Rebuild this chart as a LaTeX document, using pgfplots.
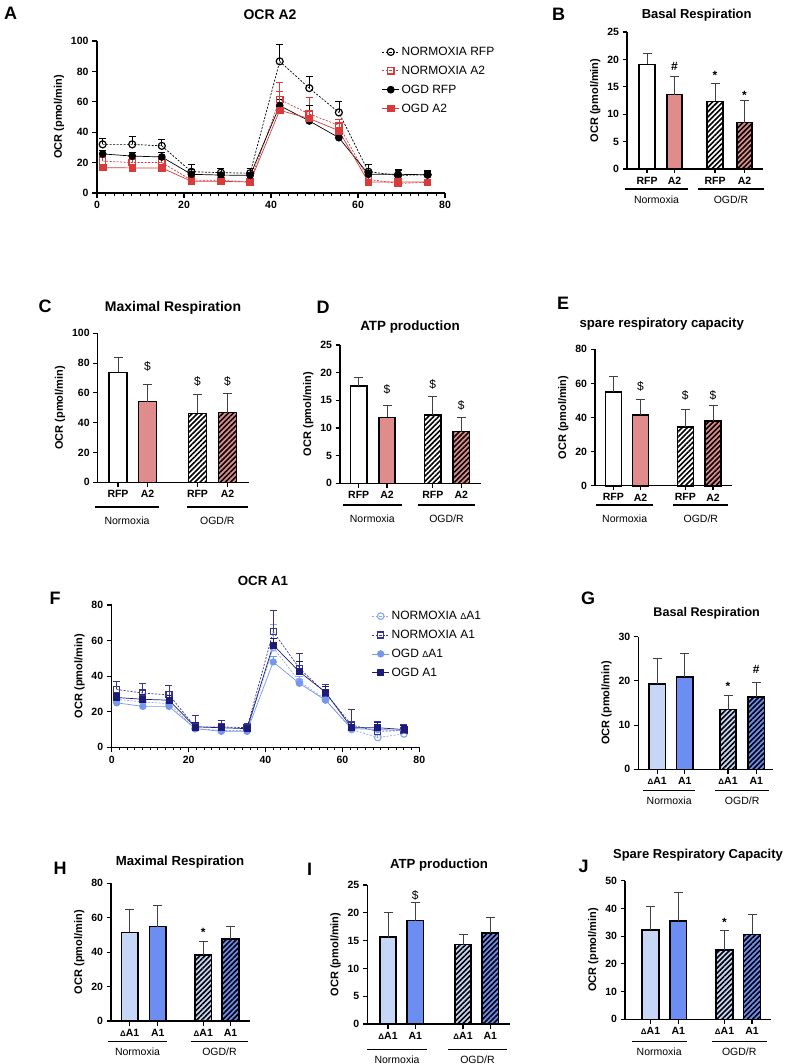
\documentclass[border=0pt]{standalone}
\usepackage{pgfplots}
\pgfplotsset{compat=1.18}
\usepackage{pgfplotstable}
\usepackage{fontspec}
\setmainfont{Liberation Sans}
\usetikzlibrary{patterns.meta}

\definecolor{pinkbar}{HTML}{E08C8C}
\definecolor{redA}{HTML}{D93A3A}
\definecolor{lbar}{HTML}{C6D6F6}
\definecolor{bbar}{HTML}{6C8EF2}
\definecolor{lblue}{HTML}{8CAAF2}
\definecolor{mblue}{HTML}{7597EE}
\definecolor{dblue}{HTML}{35358F}
\definecolor{navy}{HTML}{1C1C78}

\newcommand{\fs}[1]{\fontsize{#1}{#1}\selectfont}
\newcommand{\dl}{{\fs{8}Δ}}

\tikzset{ann/.style={font=\fs{12}}, annb/.style={font=\bfseries\fs{12}}}

\pgfplotsset{
  base/.style={scale only axis, axis lines=left, axis line style={-,line width=1.2pt},
    tick align=outside, major tick length=4.5pt, minor tick length=3pt,
    tick style={line width=1.1pt,black}, minor tick style={line width=0.9pt,black},
    ticklabel style={font=\bfseries\fs{10.5}},
    ylabel={OCR (pmol/min)}, ylabel style={font=\bfseries\fs{11}},
    /pgf/number format/assume math mode=true,
    xmin=0, ymin=0, clip=false, anchor=south west},
  barax/.style={base, bar shift=0pt},
  eb/.style={error bars/y dir=plus, error bars/y explicit,
    error bars/error bar style={line width=0.8pt, black!75, solid},
    error bars/error mark options={rotate=90, mark size=4.5pt, line width=0.8pt, black!75, solid}},
  wb/.style={ybar, bar shift=0pt, draw=black, line width=1.6pt, fill=white, eb},
  hatch/.style={postaction={pattern={Lines[angle=45,distance=3.6pt,line width=1.6pt]}, pattern color=black}},
  leb/.style={error bars/y dir=plus, error bars/y explicit,
    error bars/error bar style={line width=0.7pt, solid},
    error bars/error mark options={rotate=90, mark size=3.5pt, line width=0.7pt, solid}},
}

\pgfplotstableread{
t    a   ea   b   eb   c    ec   d    ed
1.3  32  4    21  3    25.7 2.5  16.7 2
8.1  32  5    20  3    24.3 2.5  16.5 2
14.9 31  4.5  20  3    23.7 3    16.5 2
21.7 14  5    8.5 2    12.3 3    7.7  1.5
28.5 13.4 2.6 8.3 2    11.8 2    7.7  1.5
35.2 13  3.5  7.4 2    11.6 2    7.2  1.5
42.0 86.6 11.4 61.5 11.5 57.5 4  54.4 12.6
48.8 69  8    52  11   47.4 10   49   5
55.6 53  7.5  44.5 4   36.4 3    41   5
62.4 14  4.6  9   2.5  12.3 2.5  7.2  1.5
69.2 11.6 3.4 6.3 2.5  12.3 3.5  7.3  1.5
76.0 12  3    7   2    12   2    7.2  1.5
}\dataA

\pgfplotstableread{
t    a    ea   b    eb   c    ec   d    ed
1.3  27   2    32.5 4.5  25   2    28   2.5
8.1  25.5 2    30.5 5.5  23   2    27   2.5
14.9 24.5 2    29.5 5.5  23   2    26.5 2.5
21.7 10.5 2    11.5 6.5  10.5 2    11.5 2.5
28.5 9.5  1.5  11.5 3.5  9    1.5  11   2
35.2 9.5  1.5  11   2.5  9    1.5  10.5 2
42.0 56   13   65   12   48   3    57.5 4
48.8 37   3    44.5 8.5  36   2    42.5 6
55.6 27   2    30.5 5    26.5 2    31   3
62.4 10   2    12.5 9    10.5 1.5  11   3
69.2 5.5  2    9    5.5  10   1.5  11   3
76.0 7.5  1.5  9.5  3.5  9.5  1.5  10   2.5
}\dataF

\newcommand{\grp}[5]{\draw[line width=1.4pt] (#1pt,-#3pt) -- (#2pt,-#3pt);
  \node[font=\fs{10.5}] at ({(#1+#2)/2*1pt},{-#4*1pt}) {#5};}

\begin{document}
\begin{tikzpicture}
\useasboundingbox (0pt,0pt) rectangle (789pt,-1064pt);

% ---------------- A ----------------
\begin{axis}[base, at={(97pt,-193pt)}, width=348pt, height=152pt,
  xmax=80, ymax=100, xtick={0,20,40,60,80}, ytick={0,20,...,100},
  minor x tick num=9, major tick length=5pt,
  legend style={at={(0.818,0.975)}, anchor=north west, draw=none, fill=none,
    font=\fs{12}, row sep=5pt, inner sep=0pt},
  legend cell align=left]
\addplot[black, dash pattern=on 2pt off 1.5pt, line width=0.7pt, mark=o, mark size=3.5pt,
  mark options={solid, line width=1.2pt, fill=white}, leb] table[x=t,y=a,y error=ea] {\dataA};
\addplot[redA, dash pattern=on 2pt off 1.5pt, line width=0.7pt, mark=square, mark size=3.2pt,
  mark options={solid, line width=1.2pt, fill=white}, leb] table[x=t,y=b,y error=eb] {\dataA};
\addplot[black, line width=0.7pt, mark=*, mark size=3.5pt, leb] table[x=t,y=c,y error=ec] {\dataA};
\addplot[redA, line width=0.7pt, mark=square*, mark size=3.2pt, leb] table[x=t,y=d,y error=ed] {\dataA};
\legend{NORMOXIA RFP, NORMOXIA A2, OGD RFP, OGD A2}
\end{axis}

% ---------------- B ----------------
\begin{axis}[barax, at={(627pt,-169pt)}, width=136pt, height=137pt, xmax=136, ymax=25,
  ytick={0,5,...,25}, xtick={20,47.5,88,117.5}, xticklabels={RFP,A2,RFP,A2}, bar width=15.5pt]
\addplot[wb] coordinates {(20,19.07) +- (0,2.0)};
\addplot[wb, fill=pinkbar] coordinates {(47.5,13.56) +- (0,3.39)};
\addplot[wb, hatch] coordinates {(88,12.35) +- (0,3.25)};
\addplot[wb, fill=pinkbar, hatch] coordinates {(117.5,8.47) +- (0,4.0)};
\node[annb] at (axis cs:47.5,18.8) {\#};
\node[annb,yshift=-2.6pt] at (axis cs:88,17.55) {*};
\node[annb,yshift=-2.6pt] at (axis cs:117.5,14.0) {*};
\end{axis}

% ---------------- C ----------------
\begin{axis}[barax, at={(97.7pt,-482.3pt)}, width=151.3pt, height=149pt, xmax=151.3, ymax=100,
  ytick={0,20,...,100}, xtick={20.3,49.8,99.8,129.8}, xticklabels={RFP,A2,RFP,A2}, bar width=18.3pt]
\addplot[wb] coordinates {(20.3,73.8) +- (0,10.1)};
\addplot[wb, fill=pinkbar] coordinates {(49.8,54.1) +- (0,11.7)};
\addplot[wb, hatch] coordinates {(99.8,46.3) +- (0,12.7)};
\addplot[wb, fill=pinkbar, hatch] coordinates {(129.8,46.8) +- (0,12.7)};
\node[ann] at (axis cs:49.8,77.6) {\$};
\node[ann] at (axis cs:99.8,68) {\$};
\node[ann] at (axis cs:129.8,68) {\$};
\end{axis}

% ---------------- D ----------------
\begin{axis}[barax, at={(340pt,-483.3pt)}, width=140.7pt, height=138.3pt, xmax=140.7, ymax=25,
  ytick={0,5,...,25}, xtick={18.7,47,92.8,121.3}, xticklabels={RFP,A2,RFP,A2}, bar width=16.5pt]
\addplot[wb] coordinates {(18.7,17.6) +- (0,1.6)};
\addplot[wb, fill=pinkbar] coordinates {(47,11.9) +- (0,2.1)};
\addplot[wb, hatch] coordinates {(92.8,12.35) +- (0,3.3)};
\addplot[wb, fill=pinkbar, hatch] coordinates {(121.3,9.33) +- (0,2.53)};
\node[ann] at (axis cs:47,17) {\$};
\node[ann] at (axis cs:92.8,17.8) {\$};
\node[ann] at (axis cs:121.3,14.15) {\$};
\end{axis}

% ---------------- E ----------------
\begin{axis}[barax, at={(595pt,-485.7pt)}, width=137pt, height=136.4pt, xmax=137, ymax=80,
  ytick={0,20,...,80}, xtick={18.3,45.5,90.3,118}, xticklabels={RFP,A2,RFP,A2}, bar width=16pt]
\addplot[wb] coordinates {(18.3,55) +- (0,9)};
\addplot[wb, fill=pinkbar] coordinates {(45.5,41.3) +- (0,9.4)};
\addplot[wb, hatch] coordinates {(90.3,34.6) +- (0,10.2)};
\addplot[wb, fill=pinkbar, hatch] coordinates {(118,37.9) +- (0,9.3)};
\node[ann] at (axis cs:45.5,58) {\$};
\node[ann] at (axis cs:90.3,53) {\$};
\node[ann] at (axis cs:118,53) {\$};
\end{axis}

% ---------------- F ----------------
\begin{axis}[base, at={(111.7pt,-747.3pt)}, width=307.6pt, height=142.3pt,
  xmax=80, ymax=80, xtick={0,20,40,60,80}, ytick={0,20,...,80},
  minor x tick num=9, major tick length=5pt,
  legend style={at={(0.845,0.972)}, anchor=north west, draw=none, fill=none,
    font=\fs{12}, row sep=5pt, inner sep=0pt},
  legend cell align=left]
\addplot[lblue, dash pattern=on 2pt off 1.5pt, line width=0.7pt, mark=o, mark size=3.3pt,
  mark options={solid, line width=1.2pt, fill=white}, leb] table[x=t,y=a,y error=ea] {\dataF};
\addplot[dblue, dash pattern=on 2pt off 1.5pt, line width=0.7pt, mark=square, mark size=3pt,
  mark options={solid, line width=1.2pt, fill=white}, leb] table[x=t,y=b,y error=eb] {\dataF};
\addplot[mblue, line width=0.7pt, mark=*, mark size=3.3pt, leb] table[x=t,y=c,y error=ec] {\dataF};
\addplot[navy, line width=0.7pt, mark=square*, mark size=3pt, leb] table[x=t,y=d,y error=ed] {\dataF};
\legend{NORMOXIA {\fs{9}Δ}A1, NORMOXIA A1, OGD {\fs{9}Δ}A1, OGD A1}
\end{axis}

% ---------------- G ----------------
\begin{axis}[barax, at={(638.3pt,-769.3pt)}, width=135pt, height=132.6pt, xmax=135, ymax=30,
  ytick={0,10,20,30}, xtick={18.9,46.4,89.7,117.9}, xticklabels={\dl A1,A1,\dl A1,A1}, bar width=16.5pt]
\addplot[wb, fill=lbar] coordinates {(18.9,19.3) +- (0,5.9)};
\addplot[wb, fill=bbar] coordinates {(46.4,20.9) +- (0,5.4)};
\addplot[wb, fill=lbar, hatch] coordinates {(89.7,13.5) +- (0,3.3)};
\addplot[wb, fill=bbar, hatch] coordinates {(117.9,16.4) +- (0,3.2)};
\node[annb,yshift=-2.6pt] at (axis cs:89.7,19.4) {*};
\node[annb] at (axis cs:117.9,22.5) {\#};
\end{axis}

% ---------------- H ----------------
\begin{axis}[barax, at={(111pt,-1021pt)}, width=139pt, height=137.7pt, xmax=139, ymax=80,
  ytick={0,20,...,80}, xtick={18.7,46.8,92.3,119.5}, xticklabels={\dl A1,A1,\dl A1,A1}, bar width=16.5pt]
\addplot[wb, fill=lbar] coordinates {(18.7,51.5) +- (0,13.5)};
\addplot[wb, fill=bbar] coordinates {(46.8,54.8) +- (0,12.2)};
\addplot[wb, fill=lbar, hatch] coordinates {(92.3,38.4) +- (0,7.9)};
\addplot[wb, fill=bbar, hatch] coordinates {(119.5,47.7) +- (0,7.1)};
\node[annb,yshift=-2.6pt] at (axis cs:92.3,52.9) {*};
\end{axis}

% ---------------- I ----------------
\begin{axis}[barax, at={(367.3pt,-1024pt)}, width=142.7pt, height=139pt, xmax=142.7, ymax=25,
  ytick={0,5,...,25}, xtick={20.7,48,95.7,123}, xticklabels={\dl A1,A1,\dl A1,A1}, bar width=16.3pt]
\addplot[wb, fill=lbar] coordinates {(20.7,15.7) +- (0,4.3)};
\addplot[wb, fill=bbar] coordinates {(48,18.6) +- (0,3.2)};
\addplot[wb, fill=lbar, hatch] coordinates {(95.7,14.3) +- (0,1.9)};
\addplot[wb, fill=bbar, hatch] coordinates {(123,16.4) +- (0,2.8)};
\node[ann] at (axis cs:48,23.2) {\$};
\end{axis}

% ---------------- J ----------------
\begin{axis}[barax, at={(625pt,-1019.3pt)}, width=145.7pt, height=138.6pt, xmax=145.7, ymax=50,
  ytick={0,10,...,50}, xtick={25.5,53.3,99.5,127}, xticklabels={\dl A1,A1,\dl A1,A1}, bar width=16.7pt]
\addplot[wb, fill=lbar] coordinates {(25.5,32.2) +- (0,8.4)};
\addplot[wb, fill=bbar] coordinates {(53.3,35.5) +- (0,10.4)};
\addplot[wb, fill=lbar, hatch] coordinates {(99.5,25) +- (0,7)};
\addplot[wb, fill=bbar, hatch] coordinates {(127,30.6) +- (0,7.3)};
\node[annb,yshift=-2.6pt] at (axis cs:99.5,35.8) {*};
\end{axis}

% ---------------- group lines and labels ----------------
\grp{625}{688}{189}{200}{Normoxia}
\grp{698}{764}{189}{200}{OGD/R}
\grp{95}{159}{507}{521}{Normoxia}
\grp{186.7}{248}{507}{521}{OGD/R}
\grp{343}{401.7}{505}{519}{Normoxia}
\grp{418}{475}{505}{519}{OGD/R}
\grp{596}{653.3}{505}{519}{Normoxia}
\grp{673.3}{728.3}{505}{519}{OGD/R}
\grp{643.3}{695}{790.7}{801}{Normoxia}
\grp{715}{769.3}{790.7}{801}{OGD/R}
\grp{108.3}{166.7}{1041.7}{1052}{Normoxia}
\grp{190.7}{248.3}{1041.7}{1052}{OGD/R}
\grp{367.3}{426.7}{1049.3}{1059.5}{Normoxia}
\grp{448.3}{506.7}{1049.3}{1059.5}{OGD/R}
\grp{631.7}{686.7}{1041.7}{1052}{Normoxia}
\grp{711.7}{766.7}{1041.7}{1052}{OGD/R}

% ---------------- titles and panel letters ----------------
\node[font=\bfseries\fs{14}] at (270pt,-15pt) {OCR A2};
\node[font=\bfseries\fs{13}] at (696.7pt,-15pt) {Basal Respiration};
\node[font=\bfseries\fs{14}] at (173pt,-308pt) {Maximal Respiration};
\node[font=\bfseries\fs{13.4}] at (410pt,-327pt) {ATP production};
\node[font=\bfseries\fs{13.2}] at (661.7pt,-324pt) {spare respiratory capacity};
\node[font=\bfseries\fs{13.3}] at (263pt,-581pt) {OCR A1};
\node[font=\bfseries\fs{12.6}] at (706.7pt,-613pt) {Basal Respiration};
\node[font=\bfseries\fs{13.2}] at (180pt,-862pt) {Maximal Respiration};
\node[font=\bfseries\fs{13.2}] at (439pt,-865pt) {ATP production};
\node[font=\bfseries\fs{13}] at (698pt,-855pt) {Spare Respiratory Capacity};

\node[font=\bfseries\fs{18}] at (10.5pt,-13.5pt) {A};
\node[font=\bfseries\fs{18}] at (558.5pt,-14.5pt) {B};
\node[font=\bfseries\fs{18}] at (45pt,-306pt) {C};
\node[font=\bfseries\fs{18}] at (323pt,-307pt) {D};
\node[font=\bfseries\fs{18}] at (563pt,-303pt) {E};
\node[font=\bfseries\fs{18}] at (55pt,-598pt) {F};
\node[font=\bfseries\fs{18}] at (588pt,-598pt) {G};
\node[font=\bfseries\fs{18}] at (60pt,-868pt) {H};
\node[font=\bfseries\fs{18}] at (309.5pt,-869pt) {I};
\node[font=\bfseries\fs{18}] at (583.5pt,-866pt) {J};
\end{tikzpicture}
\end{document}
